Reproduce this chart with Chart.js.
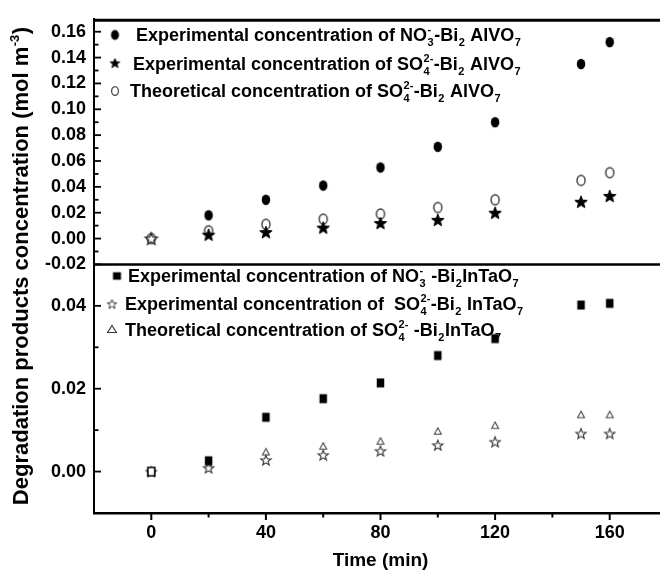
<!DOCTYPE html>
<html><head><meta charset="utf-8">
<script src="https://cdn.jsdelivr.net/npm/chart.js@4.4.0/dist/chart.umd.min.js"></script>
<style>html,body{margin:0;padding:0;overflow:hidden;background:#fff}</style>
</head><body>
<canvas id="c" width="680" height="572" style="display:block;width:680px;height:572px"></canvas>
<script>
// ---- data ----
const times = [0, 20, 40, 60, 80, 100, 120, 150, 160];
const no3AlVO7      = [null, 0.018, 0.030, 0.041, 0.055, 0.071, 0.090, 0.135, 0.152];
const so4AlVO7Exp   = [0, 0.003, 0.005, 0.0085, 0.012, 0.0145, 0.020, 0.0285, 0.033];
const so4AlVO7Theo  = [0, 0.006, 0.011, 0.015, 0.019, 0.024, 0.030, 0.045, 0.051];
const no3InTaO7     = [0, 0.0026, 0.0131, 0.0176, 0.0214, 0.0280, 0.0321, 0.0402, 0.0406];
const so4InTaO7Exp  = [0, 0.0009, 0.0028, 0.0040, 0.0050, 0.0064, 0.0072, 0.0092, 0.0092];
const so4InTaO7Theo = [0, 0.0018, 0.0048, 0.0062, 0.0074, 0.0098, 0.0112, 0.0138, 0.0138];
const xTickLabels = [0, 40, 80, 120, 160];
const xMinorTicks = [20, 60, 100, 140];
const topTickLabels = [-0.02, 0, 0.02, 0.04, 0.06, 0.08, 0.10, 0.12, 0.14, 0.16];
const topMinorTicks = [-0.01, 0.01, 0.03, 0.05, 0.07, 0.09, 0.11, 0.13, 0.15];
const bottomTickLabels = [0, 0.02, 0.04];
const bottomMinorTicks = [0.01, 0.03];

const FONT = '"Liberation Sans", Arial, sans-serif';

// ---- marker images ----
function marker(type, w, h, fill, stroke, lw) {
  const pad = 2;
  const c = document.createElement('canvas');
  c.width = Math.ceil(w + pad * 2); c.height = Math.ceil(h + pad * 2);
  const g = c.getContext('2d');
  const cx = c.width / 2, cy = c.height / 2;
  g.beginPath();
  if (type === 'ellipse') {
    g.ellipse(cx, cy, w / 2 - lw / 2, h / 2 - lw / 2, 0, 0, Math.PI * 2);
  } else if (type === 'rect') {
    g.rect(cx - w / 2 + lw / 2, cy - h / 2 + lw / 2, w - lw, h - lw);
  } else if (type === 'tri') {
    g.moveTo(cx, cy - h / 2 + lw / 2);
    g.lineTo(cx + w / 2 - lw / 2, cy + h / 2 - lw / 2);
    g.lineTo(cx - w / 2 + lw / 2, cy + h / 2 - lw / 2);
    g.closePath();
  } else if (type === 'star') {
    const R = w / 2 - lw / 2, r = R * 0.42, oy = cy + R * 0.1;
    for (let i = 0; i < 10; i++) {
      const a = -Math.PI / 2 + i * Math.PI / 5, rad = i % 2 ? r : R;
      const px = cx + rad * Math.cos(a), py = oy + rad * Math.sin(a);
      i ? g.lineTo(px, py) : g.moveTo(px, py);
    }
    g.closePath();
  }
  if (fill) { g.fillStyle = fill; g.fill(); }
  if (stroke) { g.strokeStyle = stroke; g.lineWidth = lw; g.stroke(); }
  return c;
}
const M = {
  circFilled: marker('ellipse', 9.5, 11.5, '#000', null, 1),
  circOpen: marker('ellipse', 9.5, 11.5, '#fff', '#3a3a3a', 1.4),
  starFilled: marker('star', 14, 14, '#000', '#000', 1),
  starOpenBlack: marker('star', 14, 14, '#fff', '#222', 1.3),
  square: marker('rect', 8.5, 10, '#000', null, 1),
  squareOpen: marker('rect', 8.5, 10, '#fff', '#000', 1.6),
  starOpen: marker('star', 12, 12, '#fff', '#333', 1.1),
  tri: marker('tri', 8, 7.5, '#fff', '#444', 1.1),
  // legend markers
  lgCirc: marker('ellipse', 9, 11, '#000', null, 1),
  lgStar: marker('star', 11, 11, '#000', '#000', 1),
  lgCircOpen: marker('ellipse', 8, 10, '#fff', '#444', 1.2),
  lgSquare: marker('rect', 9, 8.5, '#000', null, 1),
  lgStarOpen: marker('star', 11, 11, '#fff', '#333', 1),
  lgTri: marker('tri', 10, 8, '#fff', '#333', 1.1)
};

const pts = (ys) => times.map((t, i) => ({x: t, y: ys[i]})).filter(p => p.y !== null);

// ---- rich text helper ----
function richWidth(ctx, parts, size) {
  let w = 0;
  for (const p of parts) {
    if (typeof p === 'string') { ctx.font = `bold ${size}px ${FONT}`; w += ctx.measureText(p).width; }
    else {
      ctx.font = `bold ${Math.round(size * 0.6)}px ${FONT}`;
      w += Math.max(p.sup ? ctx.measureText(p.sup).width : 0, p.sub ? ctx.measureText(p.sub).width : 0) + 1;
    }
  }
  return w;
}
function drawRich(ctx, x, y, parts, size) {
  ctx.textBaseline = 'alphabetic'; ctx.textAlign = 'left'; ctx.fillStyle = '#000';
  for (const p of parts) {
    if (typeof p === 'string') {
      ctx.font = `bold ${size}px ${FONT}`; ctx.fillText(p, x, y); x += ctx.measureText(p).width;
    } else {
      ctx.font = `bold ${Math.round(size * 0.6)}px ${FONT}`;
      let w = 0;
      if (p.sup) { ctx.fillText(p.sup, x + 0.5, y - size * 0.42); w = Math.max(w, ctx.measureText(p.sup).width); }
      if (p.sub) { ctx.fillText(p.sub, x + 0.5, y + size * 0.3); w = Math.max(w, ctx.measureText(p.sub).width); }
      x += w + 1;
    }
  }
}

const legendTop = [
  {img: M.lgCirc, mx: 115, my: 35, tx: 136, ty: 41,
   parts: ['Experimental concentration of NO', {sup: '-', sub: '3'}, '-Bi', {sub: '2'}, ' AlVO', {sub: '7'}]},
  {img: M.lgStar, mx: 115, my: 63, tx: 133, ty: 70,
   parts: ['Experimental concentration of SO', {sup: '2-', sub: '4'}, '-Bi', {sub: '2'}, ' AlVO', {sub: '7'}]},
  {img: M.lgCircOpen, mx: 115, my: 91, tx: 130, ty: 97,
   parts: ['Theoretical concentration of SO', {sup: '2-', sub: '4'}, '-Bi', {sub: '2'}, ' AlVO', {sub: '7'}]}
];
const legendBottom = [
  {img: M.lgSquare, mx: 117, my: 276, tx: 128, ty: 282,
   parts: ['Experimental concentration of NO', {sup: '-', sub: '3'}, ' -Bi', {sub: '2'}, 'InTaO', {sub: '7'}]},
  {img: M.lgStarOpen, mx: 112, my: 304, tx: 125, ty: 310,
   parts: ['Experimental concentration of  SO', {sup: '2-', sub: '4'}, '-Bi', {sub: '2'}, ' InTaO', {sub: '7'}]},
  {img: M.lgTri, mx: 112, my: 329, tx: 125, ty: 336,
   parts: ['Theoretical concentration of SO', {sup: '2-', sub: '4'}, ' -Bi', {sub: '2'}, 'InTaO', {sub: '7'}]}
];

const decor = {
  id: 'decor',
  afterDraw(chart) {
    const ctx = chart.ctx, xs = chart.scales.x, yt = chart.scales.yTop, yb = chart.scales.yBot;
    const L = chart.chartArea.left, R = chart.chartArea.right;
    ctx.save();
    ctx.strokeStyle = '#000';
    ctx.lineCap = 'butt';
    // top frame & divider
    ctx.lineWidth = 3;
    ctx.beginPath(); ctx.moveTo(L - 1, yt.top + 1.5); ctx.lineTo(R, yt.top + 1.5); ctx.stroke();
    ctx.lineWidth = 2.5;
    ctx.beginPath(); ctx.moveTo(L - 1, yt.bottom); ctx.lineTo(R, yt.bottom); ctx.stroke();
    // x ticks (outward)
    ctx.lineWidth = 2;
    const xb = xs.top;
    for (const v of xTickLabels) { const p = xs.getPixelForValue(v); ctx.beginPath(); ctx.moveTo(p, xb); ctx.lineTo(p, xb + 7); ctx.stroke(); }
    for (const v of xMinorTicks) { const p = xs.getPixelForValue(v); ctx.beginPath(); ctx.moveTo(p, xb); ctx.lineTo(p, xb + 4.5); ctx.stroke(); }
    // y ticks (inward)
    const yTick = (sc, vals, len) => { for (const v of vals) { const p = sc.getPixelForValue(v); ctx.beginPath(); ctx.moveTo(L, p); ctx.lineTo(L + len, p); ctx.stroke(); } };
    ctx.lineWidth = 1.8;
    yTick(yt, topTickLabels, 7); yTick(yt, topMinorTicks, 4.5);
    yTick(yb, bottomTickLabels, 7); yTick(yb, bottomMinorTicks, 4.5);
    // legends
    for (const r of [...legendTop, ...legendBottom]) {
      ctx.drawImage(r.img, r.mx - r.img.width / 2, r.my - r.img.height / 2);
      drawRich(ctx, r.tx, r.ty, r.parts, 18);
    }
    // y title
    const tparts = ['Degradation products concentration (mol m', {sup: '-3'}, ')'];
    const tsize = 22;
    const w = richWidth(ctx, tparts, tsize);
    ctx.translate(28, 266);
    ctx.rotate(-Math.PI / 2);
    drawRich(ctx, -w / 2, 0, tparts, tsize);
    ctx.restore();
  }
};

const yCommon = {
  type: 'linear', position: 'left', stack: 'panels',
  grid: {display: false, drawTicks: false},
  border: {display: true, color: '#000', width: 2},
  afterFit: s => { s.width = 94; }
};
const yTickStyle = () => ({color: '#000', font: {family: FONT, weight: 'bold', size: 18}, padding: 8,
  autoSkip: false, callback: v => v.toFixed(2)});

new Chart(document.getElementById('c'), {
  type: 'scatter',
  data: {
    datasets: [
      {label: 'NO3- Bi2AlVO7 exp', data: pts(no3AlVO7), yAxisID: 'yTop', pointStyle: M.circFilled},
      {label: 'SO42- Bi2AlVO7 exp', data: pts(so4AlVO7Exp), yAxisID: 'yTop',
       pointStyle: c => (c.raw && c.raw.x === 0) ? M.starOpenBlack : M.starFilled},
      {label: 'SO42- Bi2AlVO7 theo', data: pts(so4AlVO7Theo), yAxisID: 'yTop', pointStyle: M.circOpen},
      {label: 'NO3- Bi2InTaO7 exp', data: pts(no3InTaO7), yAxisID: 'yBot',
       pointStyle: c => (c.raw && c.raw.x === 0) ? M.squareOpen : M.square},
      {label: 'SO42- Bi2InTaO7 exp', data: pts(so4InTaO7Exp), yAxisID: 'yBot', pointStyle: M.starOpen},
      {label: 'SO42- Bi2InTaO7 theo', data: pts(so4InTaO7Theo), yAxisID: 'yBot', pointStyle: M.tri}
    ]
  },
  options: {
    responsive: false, animation: false, devicePixelRatio: 1,
    layout: {padding: {top: 14, right: 13, left: 0, bottom: 0}, autoPadding: false},
    plugins: {legend: {display: false}, tooltip: {enabled: false}},
    elements: {point: {radius: 5}},
    scales: {
      x: {
        type: 'linear', position: 'bottom', min: -20, max: 180,
        grid: {display: false, drawTicks: false},
        border: {display: true, color: '#000', width: 2.5},
        ticks: {color: '#000', font: {family: FONT, weight: 'bold', size: 18}, padding: 9},
        afterBuildTicks: s => { s.ticks = xTickLabels.map(v => ({value: v})); },
        title: {display: true, text: 'Time (min)', color: '#000', font: {family: FONT, weight: 'bold', size: 19}, padding: {top: 0, bottom: 0}},
        afterFit: s => { s.height = 59; }
      },
      yBot: Object.assign({}, yCommon, {
        min: -0.01, max: 0.05, stackWeight: 251,
        afterBuildTicks: s => { s.ticks = bottomTickLabels.map(v => ({value: v})); },
        ticks: yTickStyle()
      }),
      yTop: Object.assign({}, yCommon, {
        min: -0.02, max: 0.17, stackWeight: 248,
        afterBuildTicks: s => { s.ticks = topTickLabels.map(v => ({value: v})); },
        ticks: yTickStyle()
      })
    }
  },
  plugins: [decor]
});
</script>
</body></html>
